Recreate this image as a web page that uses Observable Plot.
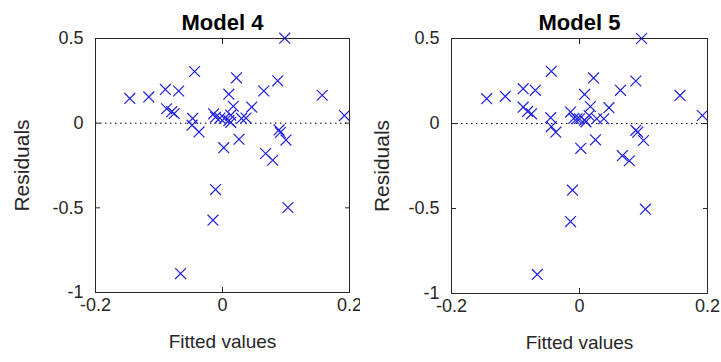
<!DOCTYPE html>
<html>
<head>
<meta charset="utf-8">
<script src="https://cdn.jsdelivr.net/npm/d3@7"></script>
<script src="https://cdn.jsdelivr.net/npm/@observablehq/plot@0.6"></script>
<style>
  html, body { margin: 0; padding: 0; background: white; }
  #wrap { display: flex; width: 721px; height: 362px; }
</style>
</head>
<body>
<div id="wrap"></div>
<script>
const titles = ["Model 4", "Model 5"];
const xLabel = "Fitted values";
const yLabel = "Residuals";
const xTicks = [-0.2, 0, 0.2];
const yTicks = [-1, -0.5, 0, 0.5];

const fitted4 = [-0.146,-0.116,-0.090,-0.069,-0.044,-0.088,-0.080,-0.076,-0.047,-0.048,-0.037,-0.014,-0.011,-0.004,0.003,0.010,0.013,0.010,0.022,0.017,0.013,0.030,0.037,0.046,0.065,0.087,0.098,0.157,0.192,0.089,0.091,0.100,0.026,0.002,0.068,0.079,-0.011,-0.015,0.103,-0.066];
const resid4 = [0.146,0.155,0.199,0.190,0.305,0.085,0.068,0.057,0.028,-0.012,-0.052,0.055,0.035,0.030,0.028,0.015,0.005,0.171,0.268,0.100,0.047,0.028,0.030,0.095,0.190,0.250,0.502,0.165,0.045,-0.040,-0.055,-0.100,-0.095,-0.145,-0.179,-0.219,-0.392,-0.573,-0.498,-0.888];

const fitted5 = [-0.145,-0.116,-0.088,-0.069,-0.044,-0.088,-0.081,-0.075,-0.045,-0.044,-0.037,-0.014,-0.009,-0.004,0.000,0.008,0.010,0.008,0.022,0.017,0.015,0.027,0.038,0.046,0.064,0.088,0.097,0.157,0.192,0.088,0.091,0.100,0.025,0.002,0.067,0.078,-0.011,-0.014,0.103,-0.066];
const resid5 = [0.146,0.160,0.205,0.195,0.307,0.096,0.071,0.057,0.034,-0.018,-0.051,0.067,0.030,0.028,0.028,0.020,0.010,0.171,0.268,0.100,0.047,0.028,0.028,0.093,0.195,0.250,0.500,0.165,0.047,-0.040,-0.051,-0.100,-0.096,-0.146,-0.189,-0.219,-0.392,-0.577,-0.504,-0.888];

const font = "'Liberation Sans', Arial, Helvetica, sans-serif";
const ink = "#262626";
const marker = "#2020e0";
const fmt = d => String(d);

function panel(title, xs, ys, width, ml, mr, mb) {
  const data = xs.map((x, i) => ({x, y: ys[i]}));
  return Plot.plot({
    width, height: 362,
    marginLeft: ml, marginRight: mr, marginTop: 38, marginBottom: mb,
    style: {fontFamily: font, fontSize: "18px", color: ink, background: "white", overflow: "visible"},
    x: {domain: [-0.2, 0.2]},
    y: {domain: [-1, 0.5]},
    marks: [
      Plot.ruleY([0], {stroke: "black", strokeDasharray: "1.5,3.5", strokeWidth: 1}),
      Plot.dot(data, {x: "x", y: "y", symbol: "times", r: 5, stroke: marker, fill: "none", strokeWidth: 1.2}),
      Plot.frame({stroke: ink, strokeWidth: 1}),
      Plot.axisX(xTicks, {anchor: "bottom", tickSize: -5, tickPadding: 11, tickFormat: fmt, stroke: ink, label: null, fontSize: 18}),
      Plot.axisX(xTicks, {anchor: "top", tickSize: -5, tickFormat: () => "", label: null, stroke: ink}),
      Plot.axisY(yTicks, {anchor: "left", tickSize: -5, tickPadding: 17, tickFormat: fmt, stroke: ink, label: null, fontSize: 18}),
      Plot.axisY(yTicks, {anchor: "right", tickSize: -5, tickFormat: () => "", label: null, stroke: ink}),
      Plot.text([xLabel], {frameAnchor: "bottom", dy: 49, lineAnchor: "middle", textAnchor: "middle", fontSize: 19, fill: ink}),
      Plot.text([yLabel], {frameAnchor: "left", dx: -(ml - 22), rotate: -90, lineAnchor: "middle", textAnchor: "middle", fontSize: 21, fill: ink}),
      Plot.text([title], {frameAnchor: "top", dy: -9, lineAnchor: "bottom", textAnchor: "middle", fontWeight: "bold", fontSize: 22, fill: "black"})
    ]
  });
}

const wrap = document.getElementById("wrap");
wrap.append(panel(titles[0], fitted4, resid4, 360, 95, 11, 70));
wrap.append(panel(titles[1], fitted5, resid5, 361, 91, 14, 69));
</script>
</body>
</html>
